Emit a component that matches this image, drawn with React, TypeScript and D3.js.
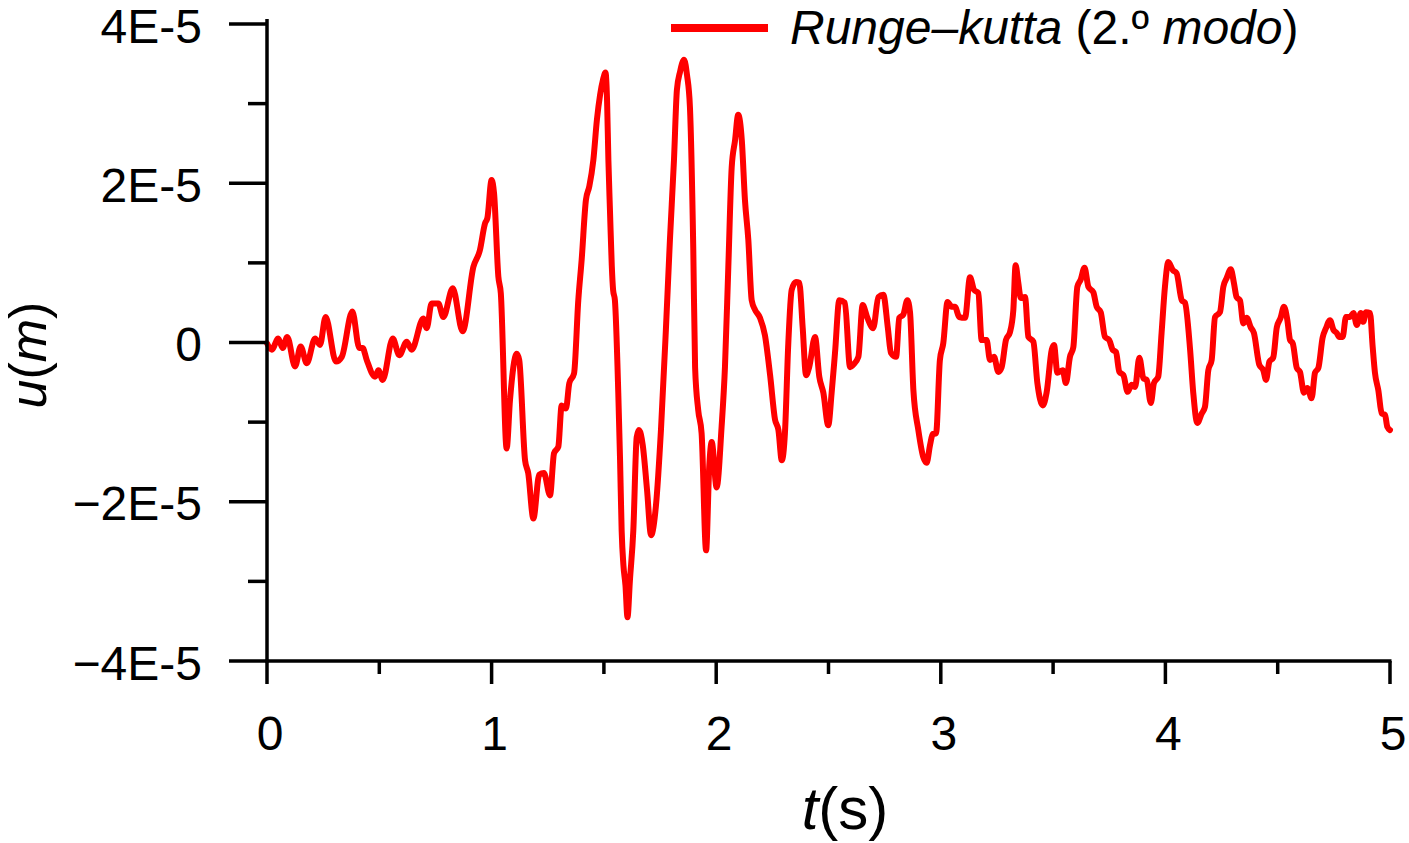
import React from "react";
import * as d3 from "d3";

// time (s)
const timeS: number[] = [
  0, 0.021, 0.05, 0.07, 0.09, 0.125, 0.15, 0.177, 0.214, 0.236, 0.261, 0.307, 0.333, 0.38, 0.411, 0.426, 0.444, 0.481, 0.496, 0.515,
  0.56, 0.589, 0.622, 0.644, 0.696, 0.711, 0.733, 0.763, 0.785, 0.827, 0.871, 0.919, 0.948, 0.971, 0.981, 1.0, 1.011, 1.03, 1.041, 1.067,
  1.082, 1.112, 1.123, 1.149, 1.163, 1.186, 1.212, 1.233, 1.26, 1.278, 1.297, 1.312, 1.331, 1.346, 1.367, 1.386, 1.401, 1.42, 1.435, 1.453,
  1.469, 1.483, 1.496, 1.507, 1.514, 1.52, 1.527, 1.535, 1.541, 1.549, 1.564, 1.572, 1.579, 1.587, 1.596, 1.605, 1.616, 1.631, 1.646, 1.656,
  1.673, 1.692, 1.71, 1.732, 1.754, 1.776, 1.794, 1.812, 1.825, 1.839, 1.857, 1.87, 1.883, 1.898, 1.906, 1.92, 1.935, 1.955, 1.969, 1.98,
  2.002, 2.024, 2.039, 2.054, 2.069, 2.084, 2.098, 2.114, 2.128, 2.143, 2.158, 2.173, 2.195, 2.217, 2.24, 2.262, 2.277, 2.292, 2.306, 2.321,
  2.336, 2.355, 2.37, 2.385, 2.4, 2.414, 2.44, 2.459, 2.477, 2.499, 2.514, 2.529, 2.548, 2.573, 2.596, 2.61, 2.633, 2.652, 2.673, 2.699,
  2.722, 2.744, 2.764, 2.778, 2.801, 2.815, 2.833, 2.851, 2.863, 2.878, 2.9, 2.922, 2.937, 2.952, 2.964, 2.979, 2.996, 3.011, 3.03, 3.048,
  3.063, 3.082, 3.108, 3.13, 3.148, 3.167, 3.182, 3.204, 3.219, 3.237, 3.256, 3.271, 3.29, 3.308, 3.323, 3.333, 3.345, 3.356, 3.375, 3.39,
  3.412, 3.43, 3.454, 3.471, 3.494, 3.504, 3.519, 3.543, 3.557, 3.575, 3.59, 3.608, 3.623, 3.64, 3.657, 3.679, 3.694, 3.712, 3.731, 3.75,
  3.765, 3.78, 3.795, 3.813, 3.832, 3.85, 3.865, 3.884, 3.902, 3.917, 3.935, 3.949, 3.968, 3.983, 3.998, 4.013, 4.033, 4.05, 4.073, 4.087,
  4.11, 4.124, 4.142, 4.162, 4.176, 4.191, 4.206, 4.221, 4.243, 4.258, 4.273, 4.291, 4.305, 4.317, 4.332, 4.347, 4.362, 4.38, 4.394, 4.418,
  4.436, 4.448, 4.463, 4.48, 4.496, 4.513, 4.528, 4.543, 4.555, 4.567, 4.585, 4.599, 4.617, 4.632, 4.651, 4.666, 4.681, 4.7, 4.715, 4.733,
  4.748, 4.763, 4.774, 4.789, 4.804, 4.822, 4.837, 4.852, 4.87, 4.881, 4.893, 4.911, 4.923, 4.933, 4.948, 4.963, 4.978, 4.988, 5.0,
];

// displacement u, in units of 1E-5 m
const displacementE5: number[] = [
  -0.01, -0.09, 0.05, -0.07, 0.07, -0.3, -0.05, -0.26, 0.05, -0.03, 0.32, -0.24, -0.18, 0.39, -0.07, -0.07, -0.22, -0.43, -0.35, -0.47,
  0.05, -0.16, 0.01, -0.09, 0.3, 0.18, 0.49, 0.49, 0.32, 0.68, 0.14, 0.95, 1.16, 1.5, 1.56, 2.04, 1.87, 0.83, 0.62, -1.33,
  -0.72, -0.14, -0.22, -1.48, -1.64, -2.21, -1.66, -1.64, -1.92, -1.39, -1.31, -0.79, -0.83, -0.51, -0.39, 0.53, 1.04, 1.79, 1.96, 2.29,
  2.8, 3.11, 3.3, 3.39, 3.05, 2.29, 1.66, 0.97, 0.66, 0.53, -0.63, -1.48, -2.36, -2.8, -3.05, -3.45, -2.98, -2.36, -1.19, -1.1,
  -1.29, -1.85, -2.42, -2.04, -1.1, 0.16, 1.29, 2.29, 3.17, 3.4, 3.55, 3.36, 2.96, 1.16, -0.31, -0.85, -1.14, -2.61, -1.56, -1.25,
  -1.82, -1.06, -0.31, 0.95, 2.2, 2.54, 2.86, 2.54, 1.79, 1.29, 0.53, 0.41, 0.31, 0.09, -0.41, -0.97, -1.1, -1.48, -1.14, -0.01,
  0.66, 0.76, 0.75, 0.19, -0.41, -0.31, 0.07, -0.43, -0.63, -1.04, -0.63, -0.13, 0.53, 0.5, -0.31, -0.28, -0.18, 0.47, 0.31, 0.18,
  0.57, 0.6, 0.19, -0.13, -0.18, 0.31, 0.35, 0.53, 0.38, -0.6, -1.1, -1.44, -1.51, -1.29, -1.15, -1.14, -0.22, -0.01, 0.51, 0.45,
  0.45, 0.32, 0.31, 0.82, 0.66, 0.62, 0.03, 0.03, -0.22, -0.18, -0.37, -0.31, 0.03, 0.13, 0.41, 0.97, 0.75, 0.56, 0.57, 0.07,
  0.01, -0.51, -0.79, -0.63, -0.09, -0.03, -0.38, -0.35, -0.51, -0.18, -0.06, 0.7, 0.79, 0.94, 0.7, 0.63, 0.45, 0.38, 0.07, 0.03,
  -0.09, -0.12, -0.37, -0.41, -0.62, -0.53, -0.56, -0.19, -0.45, -0.47, -0.76, -0.51, -0.43, 0.12, 0.7, 1.01, 0.91, 0.87, 0.53, 0.5,
  -0.09, -0.63, -1.01, -0.89, -0.81, -0.35, -0.22, 0.32, 0.38, 0.7, 0.81, 0.92, 0.75, 0.57, 0.53, 0.24, 0.31, 0.19, 0.12, -0.28,
  -0.35, -0.47, -0.24, -0.19, 0.19, 0.31, 0.45, 0.28, 0.03, -0.01, -0.32, -0.37, -0.63, -0.57, -0.7, -0.38, -0.32, 0.06, 0.18, 0.28,
  0.16, 0.12, 0.07, 0.07, 0.32, 0.32, 0.37, 0.22, 0.37, 0.26, 0.38, 0.37, -0.06, -0.38, -0.6, -0.89, -0.91, -1.06, -1.1,
];

const xMajorTicks: number[] = [0, 1, 2, 3, 4, 5];
const xMinorTicks: number[] = [0.5, 1.5, 2.5, 3.5, 4.5];
const yMajorTicks: number[] = [-4, -2, 0, 2, 4];
const yMajorLabels: string[] = ["\u22124E-5", "\u22122E-5", "0", "2E-5", "4E-5"];
const yMinorTicks: number[] = [-3, -1, 1, 3];

const FONT = "'Liberation Sans', Arial, Helvetica, sans-serif";
const RED = "#ff0000";

export default function App() {
  const W = 1409;
  const H = 843;
  const x = d3.scaleLinear().domain([0, 5]).range([267, 1390]);
  const y = d3.scaleLinear().domain([-4, 4]).range([661, 24]);

  const pts = timeS.map((t, i) => [t, displacementE5[i]] as [number, number]);
  const line = d3
    .line<[number, number]>()
    .x((d) => x(d[0]))
    .y((d) => y(d[1]))
    .curve(d3.curveMonotoneX);
  const path = line(pts) || "";

  const x0 = x(0);
  const yBottom = y(-4);

  return (
    <svg
      width={W}
      height={H}
      viewBox={`0 0 ${W} ${H}`}
      style={{ position: "absolute", left: 0, top: 0, background: "#fff" }}
      fontFamily={FONT}
    >
      <rect x={0} y={0} width={W} height={H} fill="#fff" />
      {/* data line */}
      <path d={path} fill="none" stroke={RED} strokeWidth={6} strokeLinejoin="round" strokeLinecap="round" />

      {/* axes */}
      <line x1={x0} x2={x0} y1={y(4) - 5} y2={yBottom + 1.5} stroke="#000" strokeWidth={3.5} />
      <line x1={x0 - 1.5} x2={x(5) + 1.5} y1={yBottom} y2={yBottom} stroke="#000" strokeWidth={3.5} />

      {yMajorTicks.map((v, i) => (
        <g key={`ym${v}`}>
          <line x1={x0 - 38} x2={x0} y1={y(v)} y2={y(v)} stroke="#000" strokeWidth={3.5} />
          <text x={x0 - 65} y={y(v)} dy="0.39em" textAnchor="end" fontSize={48} fill="#000">
            {yMajorLabels[i]}
          </text>
        </g>
      ))}
      {yMinorTicks.map((v) => (
        <line key={`yn${v}`} x1={x0 - 19} x2={x0} y1={y(v)} y2={y(v)} stroke="#000" strokeWidth={3.5} />
      ))}

      {xMajorTicks.map((v) => (
        <g key={`xm${v}`}>
          <line x1={x(v)} x2={x(v)} y1={yBottom} y2={yBottom + 23} stroke="#000" strokeWidth={3.5} />
          <text x={x(v) + 3} y={750} textAnchor="middle" fontSize={48} fill="#000">
            {v}
          </text>
        </g>
      ))}
      {xMinorTicks.map((v) => (
        <line key={`xn${v}`} x1={x(v)} x2={x(v)} y1={yBottom} y2={yBottom + 13} stroke="#000" strokeWidth={3.5} />
      ))}

      {/* axis titles */}
      <text x={845} y={829} textAnchor="middle" fontSize={60} fill="#000">
        <tspan fontStyle="italic">t</tspan>
        <tspan>(s)</tspan>
      </text>
      <text transform={`translate(46, 355) rotate(-90)`} textAnchor="middle" fontSize={52} fill="#000">
        <tspan fontStyle="italic">u</tspan>
        <tspan>(</tspan>
        <tspan fontStyle="italic">m</tspan>
        <tspan>)</tspan>
      </text>

      {/* legend */}
      <line x1={671} x2={768} y1={28} y2={28} stroke={RED} strokeWidth={8} />
      <text x={790} y={44} fontSize={48} fill="#000">
        <tspan fontStyle="italic">Runge–kutta</tspan>
        <tspan> (2.º </tspan>
        <tspan fontStyle="italic">modo</tspan>
        <tspan>)</tspan>
      </text>
    </svg>
  );
}
